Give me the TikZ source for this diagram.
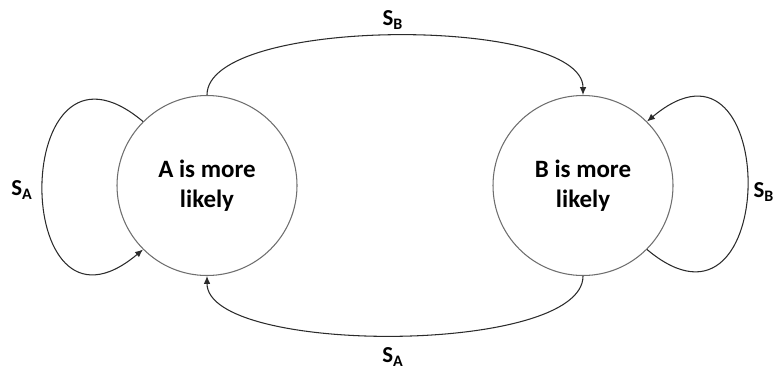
\documentclass[tikz,border=0pt]{standalone}
\usepackage{fontspec}
\setmainfont{Carlito}
\usetikzlibrary{arrows.meta, positioning}
\definecolor{ringgrey}{HTML}{6E6E6E}
\definecolor{edgeink}{HTML}{2B2B2B}
\newcommand{\sig}[1]{S\textsubscript{#1}}

\begin{document}
\begin{tikzpicture}[font=\fontsize{14.2}{17}\selectfont\bfseries,
    state/.style={circle, draw=ringgrey, line width=0.6pt, fill=white,
                  minimum size=3.6cm, inner sep=0pt, align=center},
    move/.style={draw=edgeink, line width=0.6pt,
                 -{Latex[length=4.5pt, width=3.8pt]}},
    tag/.style={font=\fontsize{13}{15}\selectfont\bfseries, inner sep=1pt}]
  \useasboundingbox (0,0) rectangle (15.54,7.44);
  \node[state] (a) at (4.14,3.73) {A is more\\likely};
  \node[state] (b) at (11.66,3.73) {B is more\\likely};
  % switching between the two states
  \draw[move] (a.north) to[out=90, in=90, looseness=0.54] (b.north);
  \draw[move] (b.south) to[out=-90, in=-90, looseness=0.54] (a.south);
  % staying in the same state
  \draw[move] (a.135) to[out=140, in=220, looseness=3.5] (a.225);
  \draw[move] (b.-45) to[out=-40, in=40, looseness=3.5] (b.45);
  \node[tag] (tb) at (7.86,7.04) {\sig{B}};
  \node[tag] (ta) at (7.86,0.30) {\sig{A}};
  \node[tag] (la) at (0.44,3.64) {\sig{A}};
  \node[tag] (rb) at (15.28,3.60) {\sig{B}};
\end{tikzpicture}
\end{document}
